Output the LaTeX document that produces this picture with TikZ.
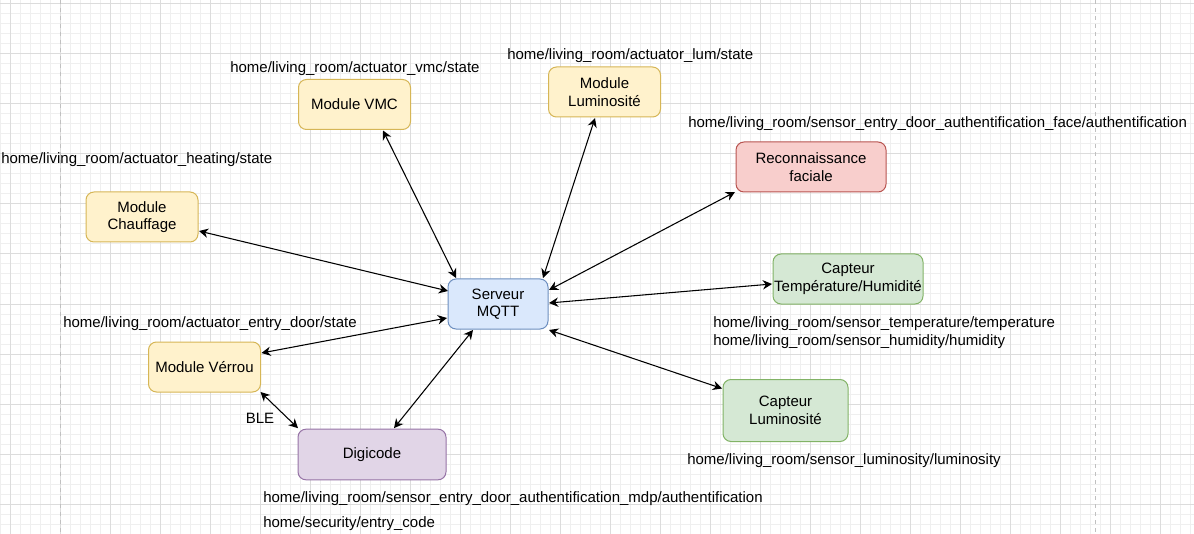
\documentclass[tikz,border=0pt]{standalone}
\usepackage{fontspec}
\setmainfont{Liberation Sans}
\usetikzlibrary{arrows.meta,calc}
\definecolor{yfill}{HTML}{FFF2CC}\definecolor{ydraw}{HTML}{D6B656}
\definecolor{bfill}{HTML}{DAE8FC}\definecolor{bdraw}{HTML}{6C8EBF}
\definecolor{rfill}{HTML}{F8CECC}\definecolor{rdraw}{HTML}{B85450}
\definecolor{gfill}{HTML}{D5E8D4}\definecolor{gdraw}{HTML}{82B366}
\definecolor{pfill}{HTML}{E1D5E7}\definecolor{pdraw}{HTML}{9673A6}
\definecolor{gridminor}{HTML}{EFEFEF}\definecolor{gridmajor}{HTML}{DCDCDC}
\definecolor{pagecol}{HTML}{C0C0C0}
\begin{document}
\begin{tikzpicture}[x=0.75pt,y=-0.75pt,
  txt/.style={font=\fontsize{11.25}{13.2}\selectfont},
  box/.style={txt, draw, rounded corners=6pt, line width=0.75pt, inner sep=0pt, outer sep=0pt, align=center},
  ybox/.style={box, fill=yfill, draw=ydraw, minimum width=84pt, minimum height=37.5pt},
  lbl/.style={txt, inner sep=0pt, anchor=west},
  conn/.style={arrows={Stealth[length=6.9pt,width=7pt]-Stealth[length=6.9pt,width=7pt]}, line width=0.8pt},
  minorline/.style={draw=gridminor, line width=0.75pt},
  majorline/.style={draw=gridmajor, line width=0.75pt},
  pageline/.style={draw=pagecol, line width=0.75pt, dash pattern=on 3pt off 3pt}]
\useasboundingbox[fill=white] (0,0) rectangle (1194,534);
% grid
\foreach \x in {0,10,...,1190} \draw[minorline] (\x,0) -- (\x,534);
\foreach \y in {4,14,...,534} \draw[minorline] (0,\y) -- (1194,\y);
\foreach \x in {10,60,...,1160} \draw[majorline] (\x,0) -- (\x,534);
\foreach \y in {4,54,...,504} \draw[majorline] (0,\y) -- (1194,\y);
\draw[pageline] (60,0) -- (60,534);
\draw[pageline] (1095,0) -- (1095,534);
% nodes
\node[ybox] (chauf) at (142,217) {Module\\Chauffage};
\node[ybox] (vmc) at (354.5,104.5) {Module VMC};
\node[ybox] (lum) at (604.5,92) {Module\\Luminosité};
\node[ybox] (verrou) at (204.5,367) {Module Vérrou};
\node[box, fill=rfill, draw=rdraw, minimum width=112.5pt, minimum height=37.5pt] (reco) at (811,167) {Reconnaissance\\faciale};
\node[box, fill=gfill, draw=gdraw, minimum width=112.5pt, minimum height=37.5pt] (cth) at (848,279) {Capteur\\Température/Humidité};
\node[box, fill=gfill, draw=gdraw, minimum width=93.75pt, minimum height=46.5pt] (clum) at (785.5,410.5) {Capteur\\Luminosité};
\node[box, fill=bfill, draw=bdraw, minimum width=75pt, minimum height=37.5pt] (srv) at (498,304) {Serveur\\MQTT};
\node[box, fill=pfill, draw=pdraw, minimum width=111pt, minimum height=38pt] (digi) at (372,454.5) {Digicode};
% labels
\node[lbl] (tvmc) at (230,68.5) {home/living\_room/actuator\_vmc/state};
\node[lbl] (tlum) at (507,55.5) {home/living\_room/actuator\_lum/state};
\node[lbl] (tface) at (688,123.5) {home/living\_room/sensor\_entry\_door\_authentification\_face/authentification};
\node[lbl] (theat) at (1,160) {home/living\_room/actuator\_heating/state};
\node[lbl] (tdoor) at (63,323.5) {home/living\_room/actuator\_entry\_door/state};
\node[lbl] (ttemp) at (713,323.5) {home/living\_room/sensor\_temperature/temperature};
\node[lbl] (thum) at (713,341.5) {home/living\_room/sensor\_humidity/humidity};
\node[lbl] (tlumi) at (687,460.5) {home/living\_room/sensor\_luminosity/luminosity};
\node[lbl] (tmdp) at (263,499) {home/living\_room/sensor\_entry\_door\_authentification\_mdp/authentification};
\node[lbl] (tcode) at (263,523.5) {home/security/entry\_code};
\node[txt, inner sep=0pt] (ble) at (260,418) {BLE};
% connectors
\draw[conn] ($(chauf.east)+(1,14)$) -- ($(srv.west)+(0,-13)$);
\draw[conn] ($(vmc.south)+(28.5,1)$) -- ($(srv.north)+(-42,-1)$);
\draw[conn] ($(lum.south)+(-9.5,1)$) -- ($(srv.north)+(45,-1)$);
\draw[conn] ($(reco.south west)+(-1,0)$) -- ($(srv.east)+(1,-14)$);
\draw[conn] ($(cth.west)+(-1,5)$) -- ($(srv.east)+(1,-1)$);
\draw[conn] ($(clum.north west)+(-1,9)$) -- ($(srv.south east)+(1,1)$);
\draw[conn] ($(verrou.east)+(1,-14)$) -- ($(srv.west)+(-1,14)$);
\draw[conn] ($(digi.north)+(22,-1)$) -- ($(srv.south)+(-25,1)$);
\draw[conn] ($(verrou.south east)+(0,0)$) -- ($(digi.north west)+(0,-1)$);
\end{tikzpicture}
\end{document}
